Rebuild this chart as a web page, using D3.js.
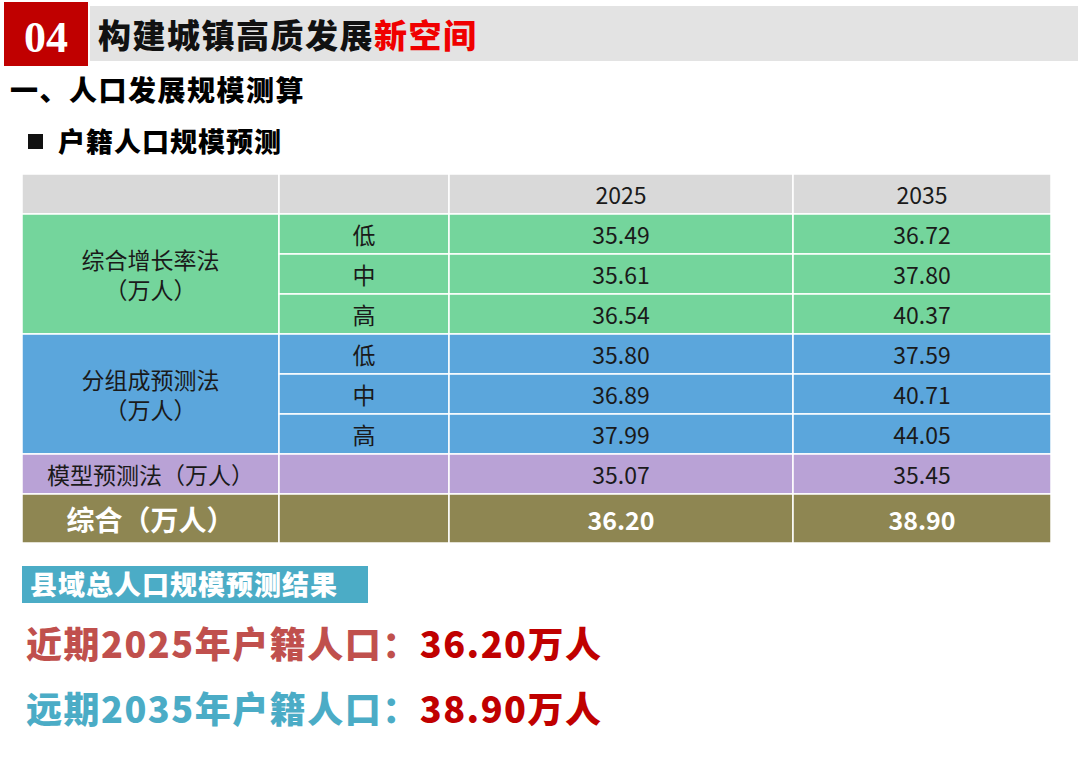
<!DOCTYPE html>
<html><head><meta charset="utf-8">
<script src="https://cdn.jsdelivr.net/npm/d3@7"></script>
<style>body{margin:0;background:#fff}svg{font-family:"Noto Sans CJK SC","Noto Sans",sans-serif}</style>
</head><body><div class="wrapper"></div>
<script>
const years = ["2025", "2035"]
const levels = ["低", "中", "高"]
const methods = ["综合增长率法", "分组成预测法"]
const growthValues = [[35.49, 36.72], [35.61, 37.80], [36.54, 40.37]]
const cohortValues = [[35.80, 37.59], [36.89, 40.71], [37.99, 44.05]]
const modelValues = [35.07, 35.45]
const combinedValues = [36.20, 38.90]

const width = 1080, height = 764
const svg = d3.select(".wrapper").append("svg").attr("width", width).attr("height", height)

// header banner
svg.append("rect").attr("x", 90).attr("y", 6).attr("width", 988).attr("height", 55).attr("fill", "#e3e3e3")
svg.append("rect").attr("x", 4).attr("y", 2).attr("width", 84).attr("height", 64).attr("fill", "#c00000")
svg.append("text").attr("x", 46).attr("y", 52).attr("text-anchor", "middle")
    .attr("fill", "#fff").style("font", "bold 44px 'Liberation Serif', serif").text("04")
const title = svg.append("text").attr("x", 98).attr("y", 48).style("font-size", "33px").style("font-weight", 900).style("letter-spacing", "1.5px")
title.append("tspan").attr("fill", "#111").text("构建城镇高质发展")
title.append("tspan").attr("fill", "#f00000").text("新空间")
svg.append("text").attr("x", 10).attr("y", 101).style("font-size", "28px").style("font-weight", 900).style("letter-spacing", "1.5px").text("一、人口发展规模测算")
svg.append("rect").attr("x", 28).attr("y", 134).attr("width", 15).attr("height", 15).attr("fill", "#111")
svg.append("text").attr("x", 58).attr("y", 152).style("font-size", "27px").style("font-weight", 900).style("letter-spacing", "1px").text("户籍人口规模预测")

// table
const colX = [22, 279, 449, 793, 1051]
const rowY = d3.scaleLinear().domain([0, 8]).range([174, 494]) // header + 7 rows of 40px
const lastRowBottom = 543
const green = "#74d59c", blue = "#5ba6dc", purple = "#b9a2d6", olive = "#8e8652"

const cells = []
const cell = (c0, c1, r0, r1, fill, text, opts = {}) => cells.push({c0, c1, r0, r1, fill, text, ...opts})
cell(0, 1, 0, 1, "#d9d9d9", "")
cell(1, 2, 0, 1, "#d9d9d9", "")
years.forEach((y, i) => cell(2 + i, 3 + i, 0, 1, "#d9d9d9", y))
;[growthValues, cohortValues].forEach((vals, g) => {
    const fill = g ? blue : green
    const r = 1 + g * 3
    cell(0, 1, r, r + 3, fill, [methods[g], "（万人）"])
    vals.forEach((row, j) => {
        cell(1, 2, r + j, r + j + 1, fill, levels[j])
        row.forEach((v, k) => cell(2 + k, 3 + k, r + j, r + j + 1, fill, v.toFixed(2)))
    })
})
cell(0, 1, 7, 8, purple, "模型预测法（万人）")
cell(1, 2, 7, 8, purple, "")
modelValues.forEach((v, k) => cell(2 + k, 3 + k, 7, 8, purple, v.toFixed(2)))
cell(0, 1, 8, 9, olive, "综合（万人）", {bold: true, color: "#fff", size: 28})
cell(1, 2, 8, 9, olive, "")
combinedValues.forEach((v, k) => cell(2 + k, 3 + k, 8, 9, olive, v.toFixed(2), {bold: true, color: "#fff", size: 25}))

const yOf = r => r === 9 ? lastRowBottom : rowY(r)
const g = svg.append("g")
cells.forEach(d => {
    const x0 = colX[d.c0], x1 = colX[d.c1], y0 = yOf(d.r0), y1 = yOf(d.r1)
    g.append("rect").attr("x", x0).attr("y", y0).attr("width", x1 - x0).attr("height", y1 - y0)
        .attr("fill", d.fill).attr("stroke", "#fff").attr("stroke-width", 1.5)
    const lines = Array.isArray(d.text) ? d.text : [d.text]
    const size = d.size || 23
    lines.forEach((t, i) => {
        g.append("text").attr("x", (x0 + x1) / 2)
            .attr("y", (y0 + y1) / 2 + (i - (lines.length - 1) / 2) * 30)
            .attr("text-anchor", "middle").attr("dominant-baseline", "central")
            .attr("fill", d.color || "#1a1a1a").style("font-size", size + "px")
            .style("font-weight", d.bold ? 700 : 400).text(t)
    })
})

// results
svg.append("rect").attr("x", 22).attr("y", 566).attr("width", 346).attr("height", 37).attr("fill", "#4bacc6")
svg.append("text").attr("x", 30).attr("y", 595).attr("fill", "#fff").style("font-size", "27px").style("font-weight", 900).style("letter-spacing", "1px").text("县域总人口规模预测结果")
const res = [["近期", years[0], combinedValues[0], "#c0504d", 658], ["远期", years[1], combinedValues[1], "#4bacc6", 723]]
res.forEach(([p, y, v, c, yy]) => {
    const t = svg.append("text").attr("x", 26).attr("y", yy).style("font-size", "36px").style("font-weight", 900).style("letter-spacing", "1.5px")
    t.append("tspan").attr("fill", c).text(`${p}${y}年户籍人口：`)
    t.append("tspan").attr("fill", "#c00000").text(`${v.toFixed(2)}万人`)
})
</script></body></html>
